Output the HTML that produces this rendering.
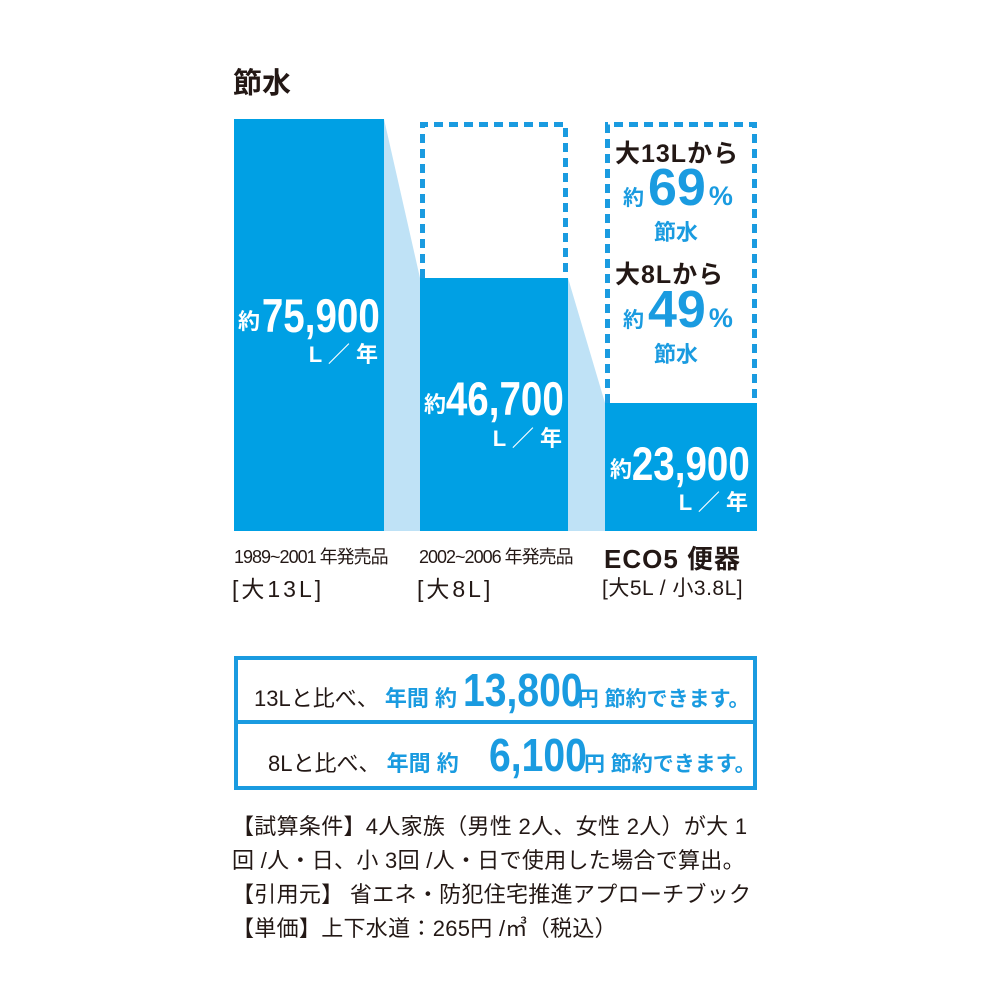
<!DOCTYPE html>
<html><head><meta charset="utf-8">
<style>
body{margin:0;width:1000px;height:1000px;background:#fff;position:relative;overflow:hidden;font-family:"Liberation Sans","Noto Sans CJK JP",sans-serif;color:#231815}
.a{position:absolute;white-space:nowrap}
.w{color:#fff;font-weight:bold}
.num{display:inline-block;transform:scaleX(0.82);transform-origin:right center}
.b{color:#1a9be0;font-weight:bold}
</style></head><body>
<div class="a" style="left:233px;top:60px;font-size:29px;font-weight:bold">節水</div>
<svg class="a" style="left:0;top:0" width="1000" height="1000">
<polygon points="384,119 420,278 420,531 384,531" fill="#bfe2f6"/>
<polygon points="568,278 605,403 605,531 568,531" fill="#bfe2f6"/>
<rect x="234" y="119" width="150" height="412" fill="#00a0e4"/>
<rect x="420" y="278" width="148" height="253" fill="#00a0e4"/>
<rect x="605" y="403" width="152" height="128" fill="#00a0e4"/>
<g stroke="#1a9be0" stroke-width="5" fill="none" stroke-dasharray="9,6">
<path d="M422.5,278 V124.5 H565.5 V278"/>
<path d="M607.5,403 V124.5 H754.5 V403"/>
</g>
</svg>
<div class="a w" style="left:238px;top:304px;font-size:22px">約</div>
<div class="a w" style="right:620px;top:288px"><span class="num" style="font-size:47px">75,900</span></div>
<div class="a w" style="right:622px;top:337px;font-size:22px">L ／ 年</div>
<div class="a w" style="left:424px;top:387px;font-size:22px">約</div>
<div class="a w" style="right:436px;top:371px"><span class="num" style="font-size:47px">46,700</span></div>
<div class="a w" style="right:438px;top:421px;font-size:22px">L ／ 年</div>
<div class="a w" style="left:610px;top:452px;font-size:22px">約</div>
<div class="a w" style="right:250px;top:436px"><span class="num" style="font-size:47px">23,900</span></div>
<div class="a w" style="right:252px;top:485px;font-size:22px">L ／ 年</div>
<div class="a" style="left:615px;top:134px;font-size:25px;font-weight:bold;letter-spacing:1px">大13Lから</div>
<div class="a b" style="left:623px;top:158px"><span style="font-size:21px">約</span><span style="font-size:52px;margin-left:4px">69</span><span style="font-size:27px;margin-left:3px">%</span></div>
<div class="a b" style="left:654px;top:215px;font-size:22px">節水</div>
<div class="a" style="left:615px;top:255px;font-size:25px;font-weight:bold;letter-spacing:1px">大8Lから</div>
<div class="a b" style="left:623px;top:280px"><span style="font-size:21px">約</span><span style="font-size:52px;margin-left:4px">49</span><span style="font-size:27px;margin-left:3px">%</span></div>
<div class="a b" style="left:654px;top:337px;font-size:22px">節水</div>
<div class="a" style="left:234px;top:543px;font-size:18px;letter-spacing:-1px">1989~2001 年発売品</div>
<div class="a" style="left:232px;top:570px;font-size:23px;letter-spacing:3px">[大13L]</div>
<div class="a" style="left:419px;top:543px;font-size:18px;letter-spacing:-1px">2002~2006 年発売品</div>
<div class="a" style="left:417px;top:570px;font-size:23px;letter-spacing:3px">[大8L]</div>
<div class="a" style="left:604px;top:539px;font-size:26px;font-weight:bold;letter-spacing:1px">ECO5 便器</div>
<div class="a" style="left:602px;top:572px;font-size:21px;letter-spacing:0.5px">[大5L / 小3.8L]</div>
<div class="a" style="left:234px;top:656px;width:523px;height:134px;border:4px solid #1a9be0;box-sizing:border-box"></div>
<div class="a" style="left:234px;top:720px;width:523px;height:4px;background:#1a9be0"></div>
<div class="a" style="left:254px;top:663px;font-size:22px">13Lと比べ、<span class="b"> 年間 約 </span><span class="b num" style="font-size:46px;transform-origin:left center;transform:scaleX(0.85);margin-right:-26px">13,800</span><span class="b" style="font-size:21px">円 節約できます。</span></div>
<div class="a" style="left:268px;top:728px;font-size:22px">8Lと比べ、<span class="b"> 年間 約 </span><span class="b num" style="font-size:46px;transform-origin:left center;transform:scaleX(0.85);margin-left:24px;margin-right:-20px">6,100</span><span class="b" style="font-size:21px">円 節約できます。</span></div>
<div class="a" style="left:232px;top:810px;font-size:22px;line-height:34px;letter-spacing:0.3px">【試算条件】4人家族（男性 2人、女性 2人）が大 1<br>回 /人・日、小 3回 /人・日で使用した場合で算出。<br>【引用元】 省エネ・防犯住宅推進アプローチブック<br>【単価】上下水道：265円 /㎥（税込）</div>
</body></html>
